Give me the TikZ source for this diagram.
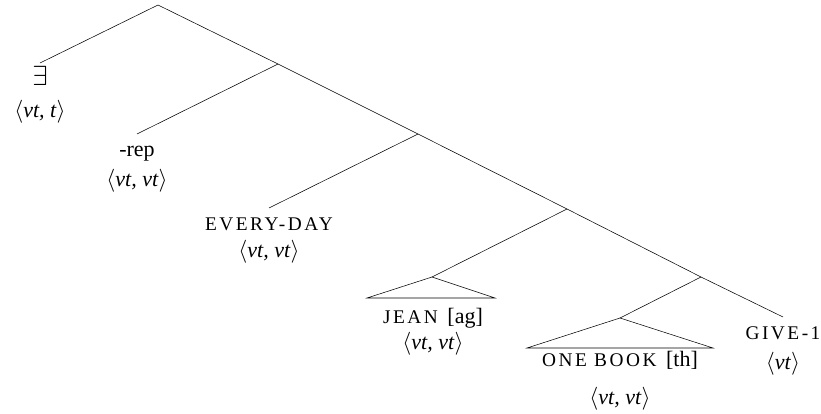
\documentclass[tikz,border=0pt]{standalone}
\usepackage{fontspec}
\setmainfont{Liberation Serif}
\newcommand\ty[1]{$\langle$\textit{#1}$\rangle$}
\newcommand\fsc[1]{{\fontsize{14.5}{22.5}\selectfont\addfontfeatures{LetterSpace=13}#1}}
\newcommand\tall{\rule{0pt}{16.5pt}}
\begin{document}
\begin{tikzpicture}[x=0.75pt,y=-0.75pt,
	leaf/.style={anchor=north,align=center,inner sep=0pt,font=\fontsize{16.5}{22.5}\selectfont}]
	\useasboundingbox (0,0) rectangle (821,414);
	% spine
	\coordinate (top) at (158,5);
	\coordinate (n1) at (278,64);
	\coordinate (n2) at (418,134);
	\coordinate (n3) at (567,209);
	\coordinate (n4) at (701,277);
	\coordinate (jean) at (432,277);
	\coordinate (book) at (620,318);
	% leaves
	\node[leaf] (exists) at (40,63) {\tall{\fontsize{21}{22.5}\selectfont$\exists$}\\[2pt]\ty{vt, t}};
	\node[leaf] (rep) at (137,134) {\tall-rep\\\ty{vt, vt}};
	\node[leaf] (every) at (269,208) {\tall\fsc{EVERY-DAY}\\[-2pt]\ty{vt, vt}};
	\node[leaf] (jeanlab) at (433,301) {\tall\fsc{JEAN}\hspace{3pt} [ag]\\[-3pt]\ty{vt, vt}};
	\node[leaf] (booklab) at (620,344) {\tall\fsc{ONE BOOK}\hspace{3pt} [th]\\[6pt]\ty{vt, vt}};
	\node[leaf] (give) at (783,317) {\tall\fsc{GIVE-1}\\\ty{vt}};
	\draw (top) -- (n1) -- (n2) -- (n3) -- (n4) -- (give.north);
	\draw (top) -- (exists.north);
	\draw (n1) -- (rep.north);
	\draw (n2) -- (every.north);
	\draw (n3) -- (jean);
	\draw (n4) -- (book);
	% triangles
	\draw (jean) -- ++(-65,21) -- ++(128,0) -- cycle;
	\draw (book) -- ++(-93,30) -- ++(186,0) -- cycle;
\end{tikzpicture}
\end{document}
